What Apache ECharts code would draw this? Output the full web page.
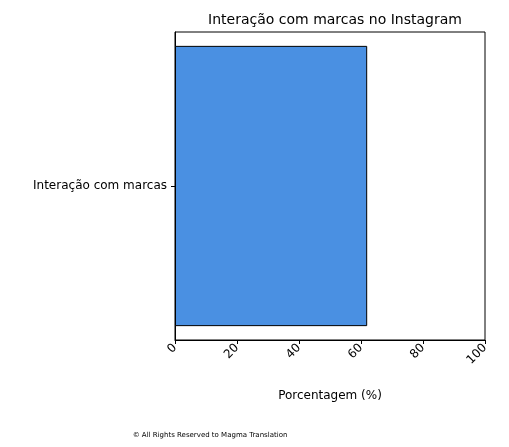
<!DOCTYPE html>
<html><head><meta charset="utf-8">
<script src="https://cdn.jsdelivr.net/npm/echarts@6/dist/echarts.min.js"></script>
<style>html,body{margin:0;padding:0;background:#fff}#c{width:509px;height:447px}</style>
</head><body><div id="c"></div>
<script>
const categories = ['Interação com marcas'];
const values = [62];
const xTicks = [0, 20, 40, 60, 80, 100];
const chart = echarts.init(document.getElementById('c'));
chart.setOption({
  animation: false,
  title: [{text: 'Interação com marcas no Instagram', left: 330, top: 8, textAlign: 'center',
    textStyle: {fontFamily: 'DejaVu Sans', fontSize: 14, fontWeight: 'normal', color: '#000'}},
    {text: '© All Rights Reserved to Magma Translation', left: 205, top: 427, textAlign: 'center',
    textStyle: {fontFamily: 'DejaVu Sans', fontSize: 7, fontWeight: 'normal', color: '#000'}}],
  grid: {left: 175, top: 32, width: 310, height: 308, show: true, borderColor: '#000', borderWidth: 1},
  xAxis: {type: 'value', min: xTicks[0], max: xTicks[xTicks.length-1], interval: 20,
    name: 'Porcentagem (%)', nameLocation: 'middle', nameGap: 50,
    nameTextStyle: {fontFamily: 'DejaVu Sans', fontSize: 12, color: '#000'},
    axisLine: {show: true, lineStyle: {color: '#000'}},
    axisTick: {show: true, length: 4, lineStyle: {color: '#000'}},
    axisLabel: {rotate: 45, color: '#000', fontFamily: 'DejaVu Sans', fontSize: 12, margin: 6},
    splitLine: {show: false}},
  yAxis: {type: 'category', data: categories,
    axisLine: {show: true, lineStyle: {color: '#000'}},
    axisTick: {show: true, length: 4, alignWithLabel: true, lineStyle: {color: '#000'}},
    axisLabel: {color: '#000', fontFamily: 'DejaVu Sans', fontSize: 12, margin: 8}},
  series: [{type: 'bar', data: values, barWidth: '91%',
    itemStyle: {color: '#4a90e2', borderColor: '#000', borderWidth: 1}}]
});
</script></body></html>
